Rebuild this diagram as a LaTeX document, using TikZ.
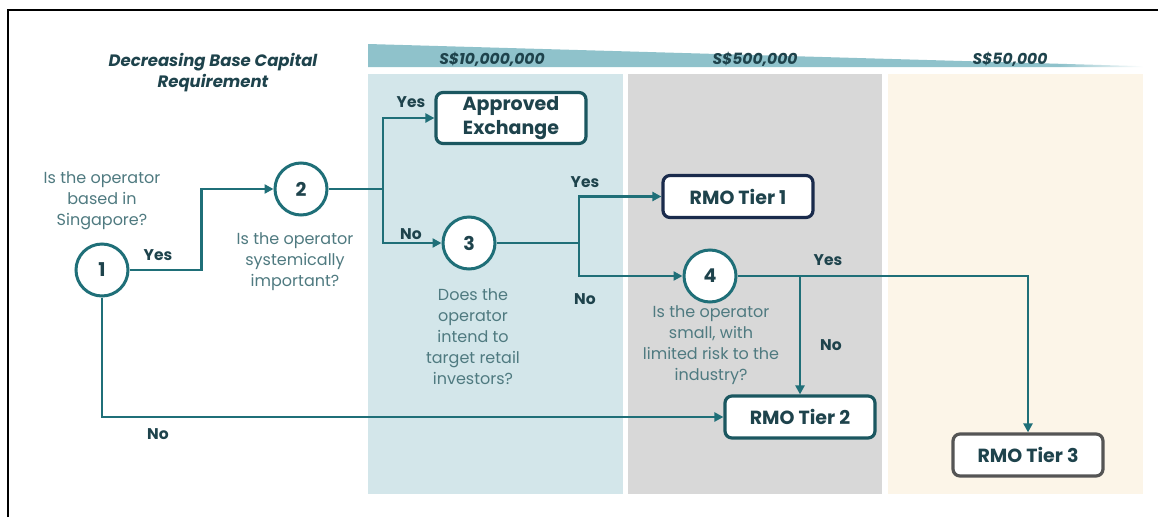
\documentclass[tikz,border=0pt]{standalone}
\usepackage{fontspec}
\setmainfont{Poppins}
\usetikzlibrary{arrows.meta}
\definecolor{flowline}{HTML}{1F6F78}
\definecolor{darktxt}{HTML}{1E434C}
\definecolor{qtxt}{HTML}{4F7A80}
\definecolor{bandblue}{HTML}{D3E6EA}
\definecolor{bandgray}{HTML}{D8D8D8}
\definecolor{bandcream}{HTML}{FCF5E8}
\definecolor{wedgecol}{HTML}{8FC2CB}
\definecolor{navyedge}{HTML}{1A2B4C}
\definecolor{grayedge}{HTML}{555555}
\definecolor{tealedge}{HTML}{1B5760}
\tikzset{
  qnum/.style={circle, draw=flowline, line width=3pt, fill=white, minimum size=52pt,
    inner sep=0pt, text=darktxt, font=\bfseries\fontsize{19}{19}\selectfont},
  outbox/.style={rectangle, rounded corners=7pt, draw=tealedge, line width=3.2pt, fill=white,
    minimum width=150pt, text=darktxt, align=center, inner sep=1pt,
    font=\bfseries\fontsize{19}{24}\selectfont},
  question/.style={text=qtxt, align=center, font=\fontsize{16}{21}\selectfont},
  answer/.style={text=darktxt, font=\bfseries\fontsize{15.5}{16}\selectfont},
  amount/.style={text=darktxt, font=\bfseries\itshape\fontsize{15.5}{16}\selectfont},
  flow/.style={draw=flowline, line width=2.6pt},
  flowarr/.style={flow, -{Triangle[length=9pt, width=9pt]}},
}
\begin{document}
\begin{tikzpicture}[x=1pt, y=-1pt]
\useasboundingbox (0,0) rectangle (1158,517);
\fill[white] (0,0) rectangle (1158,517);
% outer frame, top and left only
\draw[line width=2.4pt] (8,517) -- (8,10) -- (1159,10);

% capital requirement bands
\fill[bandblue]  (368,74) rectangle (623,494);
\fill[bandgray]  (628,74) rectangle (882,494);
\fill[bandcream] (888,74) rectangle (1143,494);

% tapering wedge
\fill[wedgecol] (368,44) -- (1060,63.8) -- (1060,67) -- (368,67) -- cycle;
\shade[left color=wedgecol, right color=white] (1060,63.8) -- (1143,66.2) -- (1143,67) -- (1060,67) -- cycle;

\node[amount] (a1) at (492,59) {S\$10,000,000};
\node[amount] (a2) at (755,59) {S\$500,000};
\node[amount] (a3) at (1010,59) {S\$50,000};

\node[amount, align=center, font=\bfseries\itshape\fontsize{16.5}{21}\selectfont] (title) at (213,73)
  {Decreasing Base Capital\\Requirement};

% decision points
\node[qnum] (c1) at (102,270) {1};
\node[qnum] (c2) at (301,189) {2};
\node[qnum] (c3) at (469,243) {3};
\node[qnum] (c4) at (710,276) {4};

\node[question] (q1) at (102,201) {Is the operator\\based in\\Singapore?};
\node[question] (q2) at (295,262) {Is the operator\\systemically\\important?};
\node[question] (q3) at (473,337) {Does the\\operator\\intend to\\target retail\\investors?};
\node[question] (q4) at (711,345.5) {Is the operator\\small, with\\limited risk to the\\industry?};

% outcomes
\node[outbox, minimum height=51pt] (ae) at (511,118) {Approved\\Exchange};
\node[outbox, minimum height=42pt, draw=navyedge] (t1) at (738,196.5) {RMO Tier 1};
\node[outbox, minimum height=42pt] (t2) at (800,417) {RMO Tier 2};
\node[outbox, minimum height=42pt, draw=grayedge] (t3) at (1028,455) {RMO Tier 3};

% connectors
\draw[flowarr] (c1.east) -- ++(72,0) |- (c2.west);
\draw[flowarr] (c1.south) |- (t2.west);
\draw[flow] (c2.east) -- (383,189) coordinate (j2);
\draw[flowarr] (j2) |- (ae.west);
\draw[flowarr] (j2) |- (c3.west);
\draw[flow] (c3.east) -- (579,243) coordinate (j3);
\draw[flowarr] (j3) |- (t1.west);
\draw[flowarr] (j3) |- (c4.west);
\draw[flowarr] (c4.east) -| (t3.north);
\draw[flowarr] (c4.east -| t2.north) -- (t2.north);

% answer labels
\node[answer] (y1) at (158,255) {Yes};
\node[answer] (n1) at (158,434) {No};
\node[answer] (y2) at (411,102) {Yes};
\node[answer] (n2) at (411,234) {No};
\node[answer] (y3) at (585,182) {Yes};
\node[answer] (n3) at (585,299) {No};
\node[answer] (y4) at (828,260) {Yes};
\node[answer] (n4) at (831,345) {No};
\end{tikzpicture}
\end{document}
